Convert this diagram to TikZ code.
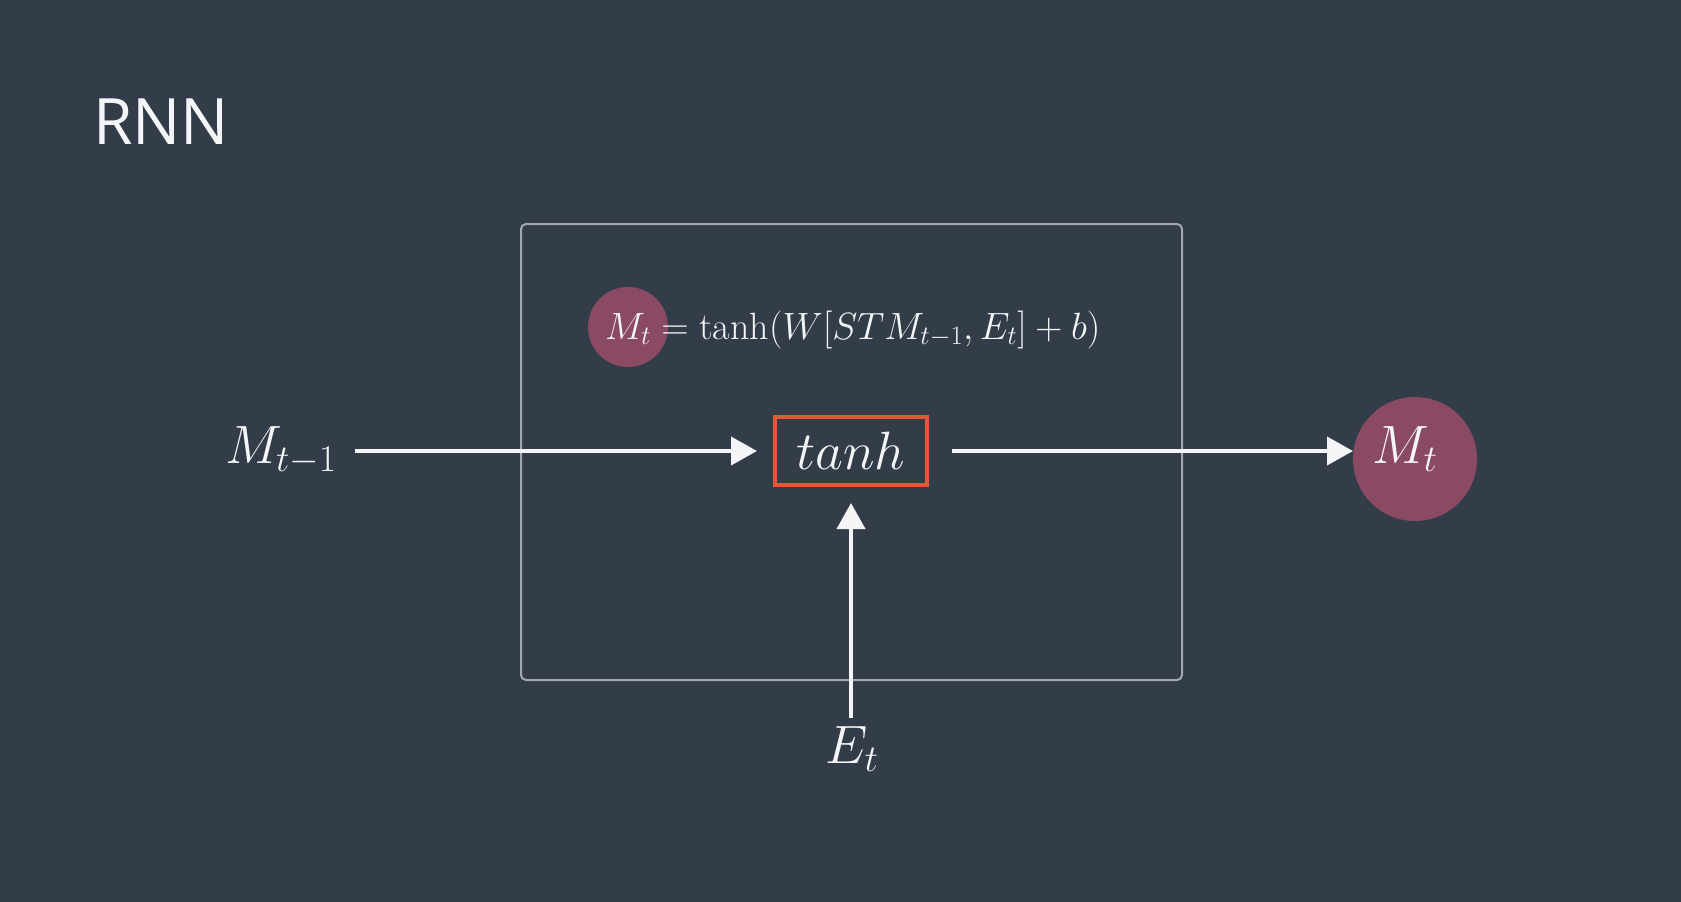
\documentclass[tikz,border=0pt]{standalone}
\usepackage{fix-cm}
\usepackage{fontspec}
\newfontfamily\titlefont{Open Sans}
\usetikzlibrary{arrows.meta}
\definecolor{bg}{HTML}{333C49}
\definecolor{framegray}{HTML}{A0A8B2}
\definecolor{tanhred}{HTML}{E25A33}
\definecolor{memcol}{HTML}{8B4A63}
\definecolor{txt}{HTML}{F4F5F6}
\begin{document}
\begin{tikzpicture}[x=1pt,y=-1pt,
  lab/.style={inner sep=0pt, outer sep=0pt, text=txt},
  big/.style={lab, font=\fontsize{54}{60}\selectfont},
  memdot/.style={circle, fill=memcol, inner sep=0pt, outer sep=0pt},
  arr/.style={draw=txt, line width=4pt, -{Triangle[length=26pt,width=28pt]}},
  cellframe/.style={draw=framegray, line width=2pt, rounded corners=5pt, inner sep=0pt, outer sep=0pt},
  gatebox/.style={draw=tanhred, line width=4pt, inner sep=0pt, outer sep=0pt, text=txt, font=\fontsize{54}{60}\selectfont}]
\fill[bg] (0,0) rectangle (1681,902);
\useasboundingbox (0,0) rectangle (1681,902);

\node[lab, anchor=base west, font=\titlefont\fontsize{64}{70}\selectfont] (title) at (93,144) {RNN};

\node[cellframe, minimum width=661pt, minimum height=456pt] (cell) at (851.5,452) {};

\node[memdot, minimum size=80pt] (dot) at (628,327) {};
\node[lab, anchor=base west, font=\fontsize{38}{44}\selectfont] (eq) at (605,339) {$M_t = \tanh(W[STM_{t-1}, E_t] + b)$};

\node[gatebox, minimum width=152pt, minimum height=68pt] (tanh) at (851,451) {$tanh$};

\node[memdot, minimum size=124pt] (out) at (1415,459) {};
\node[big, anchor=base] (outlab) at (1405,463) {$M_t$};

\node[big, anchor=base west] (mprev) at (225,463) {$M_{t-1}$};
\node[big, anchor=base] (et) at (852,763) {$E_t$};

\draw[arr, shorten <=18pt, shorten >=18pt] (mprev.east |- tanh.west) -- (tanh.west);
\draw[arr, shorten <=25pt] (tanh.east) -- (out.west |- tanh.east);
\draw[arr, shorten <=8pt, shorten >=18pt] (tanh.south |- et.north) -- (tanh.south);
\end{tikzpicture}
\end{document}
